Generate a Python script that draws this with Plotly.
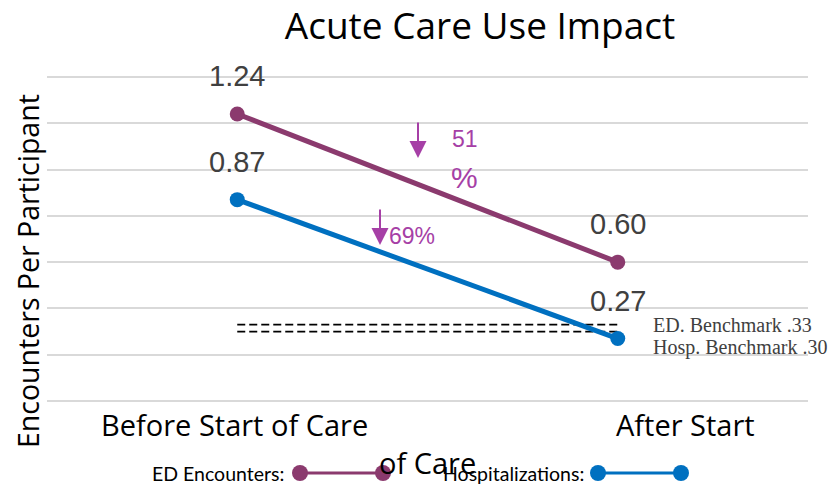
import plotly.graph_objects as go

# ---- data ----
periods = ["Before Start of Care", "After Start of Care"]
ed_values = [1.24, 0.60]
hosp_values = [0.87, 0.27]
ed_benchmark = 0.33
hosp_benchmark = 0.30
ed_drop_label = "51%"
hosp_drop_label = "69%"

PURPLE = "#8B3A6E"
BLUE = "#0070C0"
MAGENTA = "#A63FA6"

W, H = 835, 486
# y: 0 -> 401px, 1.4 -> 77.3px  (231.2 px / unit); range padded so edge gridlines show
YR = [-0.03, 1.43]
L, R, T, B = 47, 27, 70, 78
pw, ph = W - L - R, H - T - B
xpos = [0, 1]

fig = go.Figure()

# benchmarks (dashed)
for bv in (ed_benchmark, hosp_benchmark):
    fig.add_trace(go.Scatter(x=xpos, y=[bv] * 2, mode="lines",
                             line=dict(color="black", width=1.6, dash="8px,4px"),
                             showlegend=False, hoverinfo="skip"))

fig.add_trace(go.Scatter(x=xpos, y=ed_values, mode="lines+markers",
                         line=dict(color=PURPLE, width=5),
                         marker=dict(size=15, color=PURPLE),
                         name="ED Encounters", showlegend=False))
fig.add_trace(go.Scatter(x=xpos, y=hosp_values, mode="lines+markers",
                         line=dict(color=BLUE, width=5),
                         marker=dict(size=15, color=BLUE),
                         name="Hospitalizations", showlegend=False))

ann = []
# data labels
for vals in (ed_values, hosp_values):
    for xi, v in zip(xpos, vals):
        ann.append(dict(x=xi, y=v, xref="x", yref="y", text=f"{v:.2f}",
                        showarrow=False, yshift=38, xanchor="center", yanchor="middle",
                        font=dict(family="Liberation Sans", size=29, color="#404040")))

def px_x(p):
    return (p - L) / pw

def px_y(p):
    return (H - B - p) / ph

def txt(x, y, text, font, xanchor="center", **kw):
    d = dict(x=px_x(x), y=px_y(y), xref="paper", yref="paper", text=text,
             showarrow=False, xanchor=xanchor, yanchor="middle", font=font)
    d.update(kw)
    return d

# arrows and percentages
for (ax_, tip) in ((418, 158), (380, 245)):
    ann.append(dict(x=px_x(ax_), y=px_y(tip), xref="paper", yref="paper", text="",
                    showarrow=True, ax=0, ay=-37, arrowhead=2, arrowsize=1.7,
                    arrowwidth=2, arrowcolor=MAGENTA))
pfont = dict(family="Liberation Sans", size=23, color=MAGENTA)
ann.append(txt(465, 139, ed_drop_label[:-1], pfont))
ann.append(txt(464, 177, ed_drop_label[-1], dict(family="Liberation Sans", size=30, color=MAGENTA)))
ann.append(txt(412, 236, hosp_drop_label, pfont))

# benchmark labels
bfont = dict(family="Liberation Serif", size=20, color="#404040")
ann.append(txt(651, 325, f"ED. Benchmark .{int(round(ed_benchmark*100))}", bfont, xanchor="left"))
ann.append(txt(651, 347, f"Hosp. Benchmark .{int(round(hosp_benchmark*100))}", bfont, xanchor="left"))

# y axis title
ann.append(txt(28, 271, "Encounters Per Participant",
               dict(family="Open Sans", size=28.5, color="black"), textangle=-90))

# category labels
catfont = dict(family="Open Sans", size=29, color="black")
ann.append(txt(234, 424, periods[0], catfont))
ann.append(txt(685, 424, periods[1].rsplit(" of ", 1)[0], catfont))

# legend
legfont = dict(family="Lato", size=19.5, color="black")
ann.append(txt(286, 473, "ED Encounters:", legfont, xanchor="right"))
ann.append(txt(586, 473, "Hospitalizations:", legfont, xanchor="right"))
ann.append(txt(427, 462, "of " + periods[1].rsplit(" of ", 1)[1], catfont))

shapes = []
for (x0, x1, col) in ((300, 383, PURPLE), (598, 681, BLUE)):
    yc = 473
    shapes.append(dict(type="line", xref="paper", yref="paper",
                       x0=px_x(x0), x1=px_x(x1), y0=px_y(yc), y1=px_y(yc),
                       line=dict(color=col, width=3)))
    for xc in (x0, x1):
        shapes.append(dict(type="circle", xref="paper", yref="paper",
                           x0=px_x(xc - 8), x1=px_x(xc + 8),
                           y0=px_y(yc + 8), y1=px_y(yc - 8),
                           fillcolor=col, line=dict(color=col, width=0)))

fig.update_layout(
    width=W, height=H,
    margin=dict(l=L, r=R, t=T, b=B),
    paper_bgcolor="white", plot_bgcolor="white",
    title=dict(text="Acute Care Use Impact", x=480 / W, xanchor="center",
               y=1 - 26 / H, yanchor="middle", yref="container",
               font=dict(family="Open Sans", size=37, color="black")),
    xaxis=dict(range=[-0.5, 1.5], showgrid=False, zeroline=False,
               showticklabels=False, showline=False),
    yaxis=dict(range=YR, dtick=0.2, tick0=0, showgrid=True,
               gridcolor="#D9D9D9", gridwidth=1.5, zeroline=False,
               showticklabels=False, showline=False),
    annotations=ann, shapes=shapes, showlegend=False,
)

fig.write_html("out.html", config={"displayModeBar": False},
               post_script="document.body.style.margin='0';document.body.style.overflow='hidden';")
